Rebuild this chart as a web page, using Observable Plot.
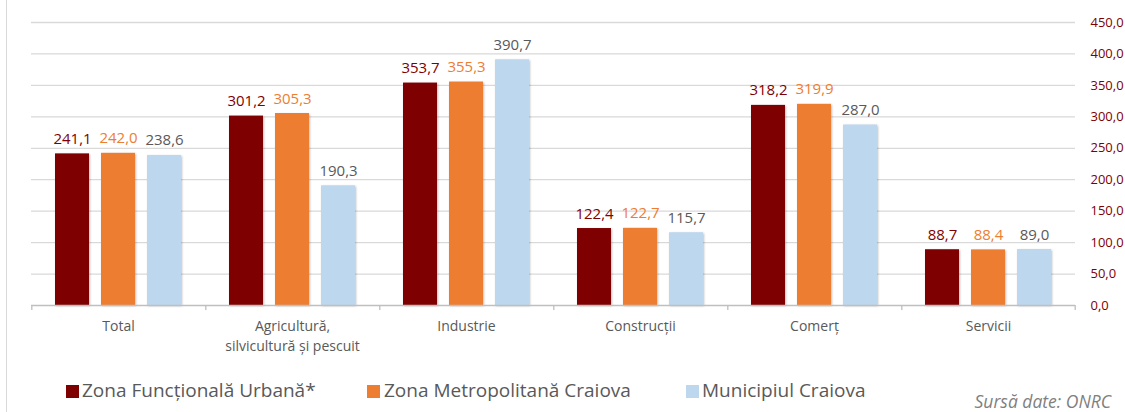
<!DOCTYPE html>
<html>
<head>
<meta charset="utf-8">
<script src="https://cdn.jsdelivr.net/npm/d3@7"></script>
<script src="https://cdn.jsdelivr.net/npm/@observablehq/plot@0.6"></script>
<style>
  html, body { margin: 0; padding: 0; background: #fff; }
  #wrap { position: relative; width: 1125px; height: 412px; overflow: hidden; font-family: "Open Sans", sans-serif; }
  #leftline { position: absolute; left: 6px; top: 0; width: 1px; height: 412px; background: #d9d9d9; }
  #chart { position: absolute; left: 0; top: 0; }
  .leg { position: absolute; top: 381px; height: 19px; line-height: 19px; font-size: 19px; color: #595959; white-space: nowrap; }
  .sw { position: absolute; width: 13px; height: 13px; top: 385px; }
  #src { position: absolute; right: 14px; top: 394px; font-size: 17.5px; line-height: 14px; height: 14px; font-style: italic; color: #7f7f7f; white-space: nowrap; }
  g[aria-label="bar"] rect { filter: drop-shadow(1px 1px 1px rgba(0,0,0,0.25)); }
</style>
</head>
<body>
<div id="wrap">
  <div id="leftline"></div>
  <div id="chart"></div>
</div>
<script>
const categories = ["Total", "Agricultură, silvicultură și pescuit", "Industrie", "Construcții", "Comerț", "Servicii"];
const categoryLabels = ["Total", "Agricultură,\nsilvicultură și pescuit", "Industrie", "Construcții", "Comerț", "Servicii"];
const series = ["Zona Funcțională Urbană*", "Zona Metropolitană Craiova", "Municipiul Craiova"];
const zfuValues = [241.1, 301.2, 353.7, 122.4, 318.2, 88.7];
const zmcValues = [242.0, 305.3, 355.3, 122.7, 319.9, 88.4];
const munValues = [238.6, 190.3, 390.7, 115.7, 287.0, 89.0];
const yTicks = [0, 50, 100, 150, 200, 250, 300, 350, 400, 450];
const barColors = ["#7f0000", "#ed7d31", "#bdd7ee"];
const labelColors = ["#7f0000", "#ed7d31", "#595959"];
const sourceText = "Sursă date: ONRC";

const seriesValues = [zfuValues, zmcValues, munValues];
const data = categories.flatMap((c, i) => series.map((s, j) => ({c, s, j, v: seriesValues[j][i]})));
const fmt = v => v.toFixed(1).replace(".", ",");

const chart = Plot.plot({
  width: 1125,
  height: 360,
  marginLeft: 30,
  marginRight: 50,
  marginTop: 22,
  marginBottom: 55,
  style: {fontFamily: "Open Sans, sans-serif", background: "transparent", overflow: "visible"},
  fx: {domain: categories, padding: 0, axis: null},
  x: {domain: series, paddingInner: 0.265, paddingOuter: 0.51, axis: null},
  y: {domain: [0, 450], axis: null},
  marks: [
    Plot.ruleY(yTicks.filter(t => t > 0), {stroke: "#d9d9d9", strokeWidth: 1.3}),
    Plot.barY(data, {fx: "c", x: "s", y: "v", fill: d => barColors[d.j]}),
    Plot.ruleY([0], {stroke: "#bfbfbf", strokeWidth: 1.3}),
    Plot.ruleX(categories, {fx: d => d, x: () => series[0], y1: 0, y2: 0, insetBottom: -5, dx: -40.7, stroke: "#bfbfbf", strokeWidth: 1.3}),
    Plot.ruleX(categories.slice(-1), {fx: d => d, x: () => series[2], y1: 0, y2: 0, insetBottom: -5, dx: 40.7, stroke: "#bfbfbf", strokeWidth: 1.3}),
    Plot.text(data, {fx: "c", x: "s", y: "v", text: d => fmt(d.v), dy: -10, lineAnchor: "bottom", fill: d => labelColors[d.j], fontSize: 15}),
    Plot.text(categories, {fx: d => d, text: (d, i) => categoryLabels[i], frameAnchor: "bottom", lineAnchor: "top", dy: 11, fontSize: 14, fill: "#595959", lineHeight: 1.43}),
    Plot.axisY({anchor: "right", ticks: yTicks, tickSize: 0, tickPadding: 15, textAnchor: "start", tickFormat: fmt, fill: "#7f0000", fontSize: 13, label: null})
  ]
});
document.getElementById("chart").appendChild(chart);

const wrap = document.getElementById("wrap");
const legPos = [[66, 82], [367, 384], [686, 702]];
series.forEach((s, j) => {
  const sw = document.createElement("div");
  sw.className = "sw";
  sw.style.left = legPos[j][0] + "px";
  sw.style.background = barColors[j];
  wrap.appendChild(sw);
  const t = document.createElement("div");
  t.className = "leg";
  t.style.left = legPos[j][1] + "px";
  t.textContent = s;
  wrap.appendChild(t);
});
const src = document.createElement("div");
src.id = "src";
src.textContent = sourceText;
wrap.appendChild(src);
</script>
</body>
</html>
